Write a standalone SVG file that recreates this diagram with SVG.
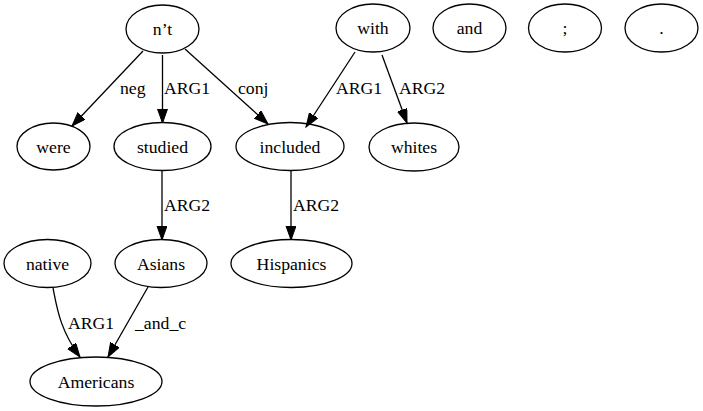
<svg xmlns="http://www.w3.org/2000/svg" width="703" height="411" viewBox="0 0 703 411" font-family="'Liberation Serif', 'DejaVu Serif', serif" font-size="17.7">
<style>
.n ellipse{fill:none;stroke:#000;stroke-width:1.3}
text{font-family:'Liberation Serif','DejaVu Serif',serif;font-size:17.7px;fill:#000}
.n text{text-anchor:middle}
.e path{fill:none;stroke:#000;stroke-width:1.3}
</style>
<defs>
<marker id="ah" markerUnits="userSpaceOnUse" markerWidth="16" markerHeight="12" refX="14" refY="5" orient="auto">
<polygon points="0,0 14,5 0,10" fill="#000" stroke="#000" stroke-width="1"/>
</marker>
</defs>
<rect width="703" height="411" fill="#fff"/>
<g id="edges" class="e">
<path d="M143,51 L72,126" marker-end="url(#ah)"/>
<text x="120" y="94">neg</text>
<path d="M162.5,55 L162.5,123" marker-end="url(#ah)"/>
<text x="164" y="94">ARG1</text>
<path d="M185,49 L268,124" marker-end="url(#ah)"/>
<text x="238" y="94">conj</text>
<path d="M355,52 L306,127" marker-end="url(#ah)"/>
<text x="336" y="94">ARG1</text>
<path d="M382,55 L407,123" marker-end="url(#ah)"/>
<text x="399" y="94">ARG2</text>
<path d="M162,171 L162,240" marker-end="url(#ah)"/>
<text x="164" y="211">ARG2</text>
<path d="M291,171 L291,240" marker-end="url(#ah)"/>
<text x="293" y="211">ARG2</text>
<path d="M53,288 C57,308 60,330 80,357" marker-end="url(#ah)"/>
<text x="68" y="329">ARG1</text>
<path d="M148,287 L108,357" marker-end="url(#ah)"/>
<text x="135" y="329">_and_c</text>
</g>
<g id="n_nt" class="n"><ellipse cx="162.5" cy="29" rx="36.5" ry="24"/><text x="162.5" y="35">n’t</text></g>
<g id="n_with" class="n"><ellipse cx="373" cy="28" rx="37" ry="24"/><text x="373" y="34">with</text></g>
<g id="n_and" class="n"><ellipse cx="469.5" cy="28" rx="36.5" ry="24"/><text x="469.5" y="34">and</text></g>
<g id="n_semi" class="n"><ellipse cx="565" cy="28" rx="36.5" ry="24"/><text x="565" y="34">;</text></g>
<g id="n_dot" class="n"><ellipse cx="661.5" cy="28" rx="36.5" ry="24"/><text x="661.5" y="34">.</text></g>
<g id="n_were" class="n"><ellipse cx="53.5" cy="146.5" rx="36.5" ry="23.5"/><text x="53.5" y="152.5">were</text></g>
<g id="n_studied" class="n"><ellipse cx="162.5" cy="146.5" rx="48.5" ry="24"/><text x="162.5" y="152.5">studied</text></g>
<g id="n_included" class="n"><ellipse cx="290" cy="146.5" rx="54" ry="24"/><text x="290" y="152.5">included</text></g>
<g id="n_whites" class="n"><ellipse cx="414" cy="147" rx="45" ry="24"/><text x="414" y="153">whites</text></g>
<g id="n_native" class="n"><ellipse cx="47.5" cy="263.5" rx="43.5" ry="24"/><text x="47.5" y="269.5">native</text></g>
<g id="n_asians" class="n"><ellipse cx="161" cy="263.5" rx="46" ry="24"/><text x="161" y="269.5">Asians</text></g>
<g id="n_hispanics" class="n"><ellipse cx="291.5" cy="263.5" rx="60.5" ry="24"/><text x="291.5" y="269.5">Hispanics</text></g>
<g id="n_americans" class="n"><ellipse cx="96" cy="381.5" rx="66" ry="24.5"/><text x="96" y="387.5">Americans</text></g>
</svg>
